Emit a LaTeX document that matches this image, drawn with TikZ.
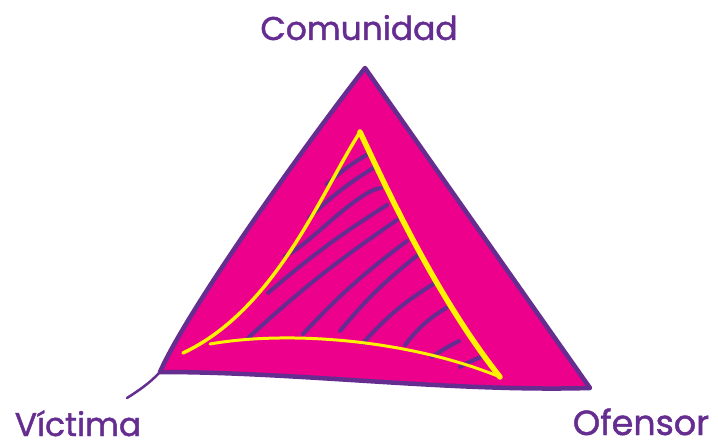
\documentclass[tikz,border=0pt]{standalone}
\usepackage{fontspec}
\setmainfont{Poppins}
\newfontfamily\lblfont{Poppins}[FakeBold=1.3]
\definecolor{mag}{HTML}{EC008C}
\definecolor{pur}{HTML}{662D91}
\definecolor{yel}{HTML}{FFF200}
\begin{document}
\begin{tikzpicture}[x=1bp,y=-1bp,
  lbl/.style={text=pur,font=\lblfont\fontsize{33}{36}\selectfont,inner sep=0pt,anchor=base},
  hatch/.style={draw=pur,line width=4bp,line cap=round},
  yline/.style={draw=yel,line cap=round,line join=round}]
\useasboundingbox (0,0) rectangle (718,447);
% outer triangle
\coordinate (A) at (365,68);
\coordinate (B) at (590,388);
\coordinate (C) at (160,372);
\coordinate (T) at (127,398);
\fill[mag] (A) -- (B) .. controls (450,392) and (300,372) .. (C)
  .. controls (185,315) and (290,165) .. (A) -- cycle;
\draw[pur,line width=4.5bp,line join=round,line cap=round]
  (C) .. controls (185,315) and (290,165) .. (A) -- (B)
  .. controls (450,392) and (300,372) .. (C);
\draw[pur,line width=2.5bp,line cap=round] (C) .. controls (150,383) and (138,391) .. (T);
% hatching
\draw[hatch] (327,184) to[bend left=6] (370,153);
\draw[hatch] (309,218) to[bend left=6] (375,167);
\draw[hatch] (285,256) .. controls (300,250) and (330,220) .. (350,205) .. controls (362,196) and (372,189) .. (381,188);
\draw[hatch] (268,293) to[bend left=4] (387,205);
\draw[hatch] (248,338) to[bend left=4] (397,220);
\draw[hatch] (303,334) to[bend left=5] (407,241);
\draw[hatch] (340,331) to[bend left=6] (418,255);
\draw[hatch] (363,343) to[bend left=8] (435,283);
\draw[hatch] (405,345) to[bend left=10] (446,308);
\draw[hatch] (432,357) to[bend left=4] (459,341);
\draw[hatch] (460,367) to[bend left=4] (481,357);
% yellow inner triangle
\coordinate (P) at (360,132);
\coordinate (Q) at (500,377);
\coordinate (R) at (183,353);
\coordinate (S) at (210,344);
\draw[yline,line width=3.5bp] (R) .. controls (275,310) and (320,195) .. (P);
\draw[yline,line width=5.5bp] (P) .. controls (385,185) and (435,295) .. (Q);
\draw[yline,line width=3bp] (S) .. controls (290,330) and (410,340) .. (Q);
% labels
\node[lbl] (com) at (359,40) {Comunidad};
\node[lbl] (vic) at (78,436) {Víctima};
\node[lbl,font=\lblfont\fontsize{35}{38}\selectfont] (ofe) at (641,435) {Ofensor};
\end{tikzpicture}
\end{document}
